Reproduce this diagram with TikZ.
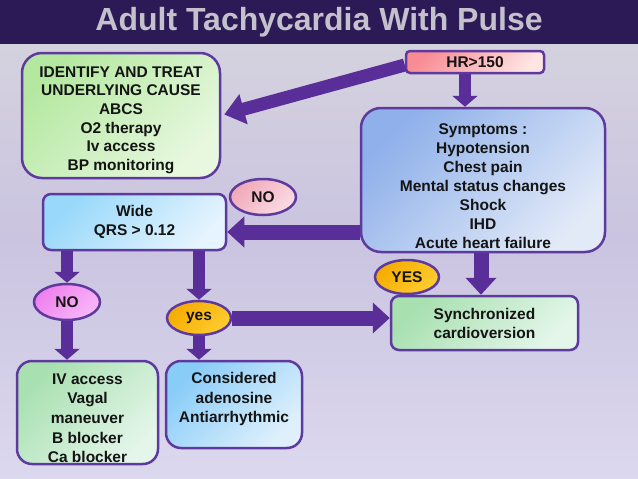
\documentclass[tikz,border=0pt]{standalone}
\usepackage{fontspec}
\setmainfont{Liberation Sans}
\usetikzlibrary{shapes.geometric,arrows.meta}

\definecolor{band}{HTML}{2B1A55}
\definecolor{titlec}{HTML}{C4C0CC}
\definecolor{edge}{HTML}{5E3A9E}
\definecolor{arrowc}{HTML}{5A2E98}
\definecolor{inkc}{HTML}{141414}
\definecolor{bgtop}{HTML}{D7D5DE}
\definecolor{bgmid}{HTML}{CAC4E0}
\definecolor{bgbot}{HTML}{DCD8EE}
\definecolor{greenA}{HTML}{B4E8A0}
\definecolor{greenB}{HTML}{E8F8E0}
\definecolor{mintA}{HTML}{A8E0B0}
\definecolor{mintB}{HTML}{E4F6EA}
\definecolor{pinkA}{HTML}{F88C94}
\definecolor{pinkB}{HTML}{FFE4E4}
\definecolor{blueA}{HTML}{8FB0EA}
\definecolor{blueB}{HTML}{E2EAF8}
\definecolor{skyA}{HTML}{98D8FA}
\definecolor{skyB}{HTML}{E6F4FE}
\definecolor{azureA}{HTML}{88CCF8}
\definecolor{azureB}{HTML}{DFF0FC}
\definecolor{roseA}{HTML}{F0A8B8}
\definecolor{roseB}{HTML}{FBDCE4}
\definecolor{magA}{HTML}{EE80EE}
\definecolor{magB}{HTML}{F8B8F8}
\definecolor{goldA}{HTML}{F5AC00}
\definecolor{goldB}{HTML}{FFCC30}

\begin{document}
\begin{tikzpicture}[x=1pt,y=-1pt,
    box/.style={draw=edge,line width=2.5pt,align=center,text=inkc,inner sep=0pt,
      font=\fontsize{15.5}{19}\selectfont\bfseries},
    oval/.style={box,ellipse,minimum width=66pt,minimum height=36pt},
    tint/.style 2 args={top color=#1,bottom color=#2,shading angle=45},
    bigarrow/.style={draw=arrowc,line width=15pt,-{Triangle[width=30pt,length=17pt]}},
    smallarrow/.style={draw=arrowc,line width=12pt,-{Triangle[width=25pt,length=11pt]}}]
    % background and title band
    \path [top color=bgtop,bottom color=bgbot,middle color=bgmid] (0,0) rectangle (638,479);
    \fill [band] (0,0) rectangle (638,44);
    \path (319,22) node [text=titlec,font=\fontsize{32}{36}\selectfont\bfseries]
	(title) {Adult Tachycardia With Pulse};
    % boxes
    \path (121,115.5) node [box,rounded corners=20pt,tint={greenA}{greenB},
	minimum width=198pt,minimum height=125pt,font=\fontsize{15.5}{18.6}\selectfont\bfseries]
	(treat) {\rule{0pt}{20pt}IDENTIFY AND TREAT\\UNDERLYING CAUSE\\ABCS\\O2 therapy\\Iv access\\BP monitoring};
    \path (475,62) node [box,rounded corners=4pt,tint={pinkA}{pinkB},
	minimum width=138pt,minimum height=22pt]
	(hr) {HR>150};
    \path (483,180) node [box,rounded corners=20pt,tint={blueA}{blueB},
	minimum width=244pt,minimum height=144pt]
	(symptoms) {\rule{0pt}{24pt}Symptoms :\\Hypotension\\Chest pain\\Mental status changes\\Shock\\IHD\\Acute heart failure};
    \path (134.5,222) node [box,rounded corners=8pt,tint={skyA}{skyB},
	minimum width=183pt,minimum height=56pt]
	(wide) {Wide\\QRS > 0.12};
    \path (484.5,323) node [box,rounded corners=8pt,tint={mintA}{mintB},
	minimum width=187pt,minimum height=54pt]
	(cardio) {Synchronized\\cardioversion};
    \path (87.5,412.5) node [box,rounded corners=15pt,tint={mintA}{mintB},
	minimum width=141pt,minimum height=103pt,font=\fontsize{15.5}{19.7}\selectfont\bfseries]
	(vagal) {\rule{0pt}{22pt}IV access\\Vagal\\maneuver\\B blocker\\Ca blocker};
    \path (234,404.5) node [box,rounded corners=15pt,tint={azureA}{azureB},
	minimum width=136pt,minimum height=87pt,font=\fontsize{15.5}{19.5}\selectfont\bfseries]
	(adeno) {Considered\\adenosine\\Antiarrhythmic\rule[-14pt]{0pt}{0pt}};
    % answer ovals
    \path (263,197) node [oval,tint={roseA}{roseB}] (noright) {NO};
    \path (67,302) node [oval,tint={magA}{magB}] (noleft) {NO};
    \path (199,318) node [oval,tint={goldA}{goldB},minimum width=64pt,minimum height=34pt] (yesleft) {yes};
    \path (407,277) node [oval,tint={goldA}{goldB},minimum width=64pt,minimum height=34pt] (yesright) {YES};
    % connectors
    \draw [bigarrow,line width=13pt,-{Triangle[width=30pt,length=20pt]}]
	([yshift=-3pt]hr.west) -- ([xshift=3pt,yshift=1pt]treat.east);
    \draw [smallarrow] (hr.south -| 465,0) -- (symptoms.north -| 465,0);
    \draw [bigarrow] (symptoms.west |- 0,232) -- (wide.east |- 0,232);
    \draw [smallarrow] (wide.south -| noleft) -- (noleft.north);
    \draw [smallarrow] (wide.south -| yesleft) -- (yesleft.north);
    \draw [smallarrow] (noleft.south) -- (vagal.north -| noleft);
    \draw [smallarrow] (yesleft.south) -- (adeno.north -| yesleft);
    \draw [bigarrow] (yesleft.east) -- (cardio.west |- yesleft);
    \draw [bigarrow] (symptoms.south -| 481,0) -- (cardio.north -| 481,0);
\end{tikzpicture}
\end{document}
